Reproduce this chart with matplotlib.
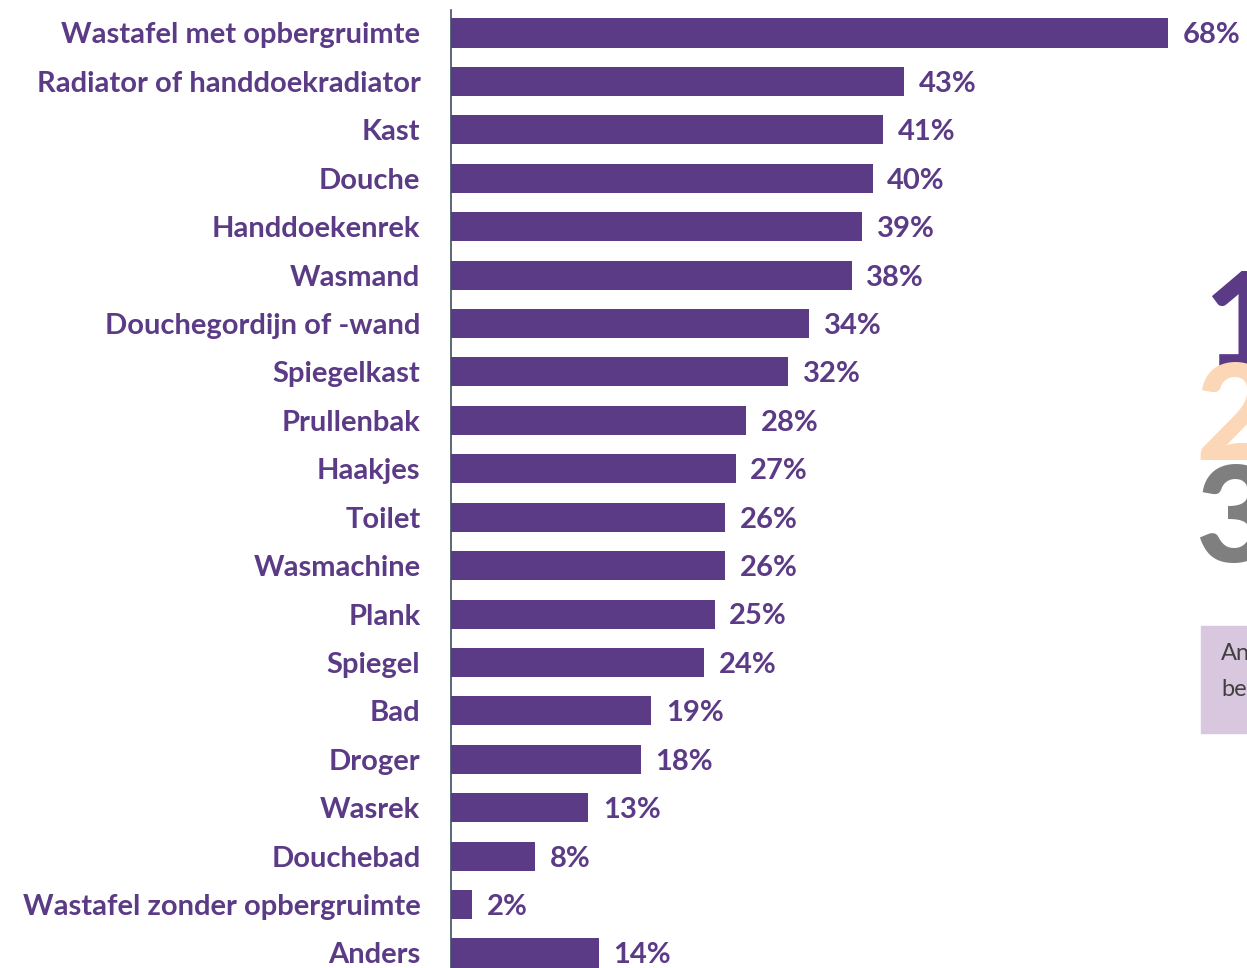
import matplotlib.pyplot as plt
from matplotlib.patches import Rectangle

labels = ["Wastafel met opbergruimte", "Radiator of handdoekradiator", "Kast", "Douche",
          "Handdoekenrek", "Wasmand", "Douchegordijn of -wand", "Spiegelkast", "Prullenbak",
          "Haakjes", "Toilet", "Wasmachine", "Plank", "Spiegel", "Bad", "Droger", "Wasrek",
          "Douchebad", "Wastafel zonder opbergruimte", "Anders"]
values = [68, 43, 41, 40, 39, 38, 34, 32, 28, 27, 26, 26, 25, 24, 19, 18, 13, 8, 2, 14]

purple = "#5B3A86"
plt.rcParams['font.family'] = ['Lato', 'DejaVu Sans']

W, H = 1247, 968
fig = plt.figure(figsize=(W / 100, H / 100), dpi=100)
ax = fig.add_axes([451 / W, 0, 1 - 451 / W, 1 - 10 / H])

pos = list(range(len(values)))
ax.barh(pos, values, height=0.6, color=purple)
ax.set_ylim(len(values) - 1 + 0.31, -0.475)
ax.set_xlim(0, (W - 451) / 10.54)
ax.set_yticks(pos)
ax.set_yticklabels(labels, fontsize=21, fontweight='bold', color=purple)
ax.tick_params(axis='y', length=0, pad=22)
ax.set_xticks([])
for s in ['top', 'right', 'bottom']:
    ax.spines[s].set_visible(False)
ax.spines['left'].set_color("#3D4F63")
ax.spines['left'].set_linewidth(1.2)

for p, v in zip(pos, values):
    ax.text(v + 1.4, p + 0.05, f"{v}%", va='center', ha='left', fontsize=21,
            fontweight='bold', color=purple)

# decoration on the right edge (cut off in the original)
fig.text(1203 / W, 1 - 368 / H, "1", fontsize=96, fontweight='black', color=purple,
         ha='left', va='baseline', zorder=1)
fig.text(1195 / W, 1 - 460 / H, "2", fontsize=96, fontweight='black', color="#FBD7B8",
         ha='left', va='baseline', zorder=2)
fig.text(1195 / W, 1 - 562 / H, "3", fontsize=96, fontweight='black', color="#7F7F7F",
         ha='left', va='baseline', zorder=3)
fig.add_artist(Rectangle((1201 / W, 1 - 733 / H), 60 / W, 107 / H,
                         transform=fig.transFigure, color="#D9C7E0", zorder=1))
fig.text(1221 / W, 1 - 654 / H, "An", fontsize=17, color="#404040", va='center', zorder=2)
fig.text(1221 / W, 1 - 690 / H, "be", fontsize=17, color="#404040", va='center', zorder=2)

fig.savefig("out.png", dpi=100)
